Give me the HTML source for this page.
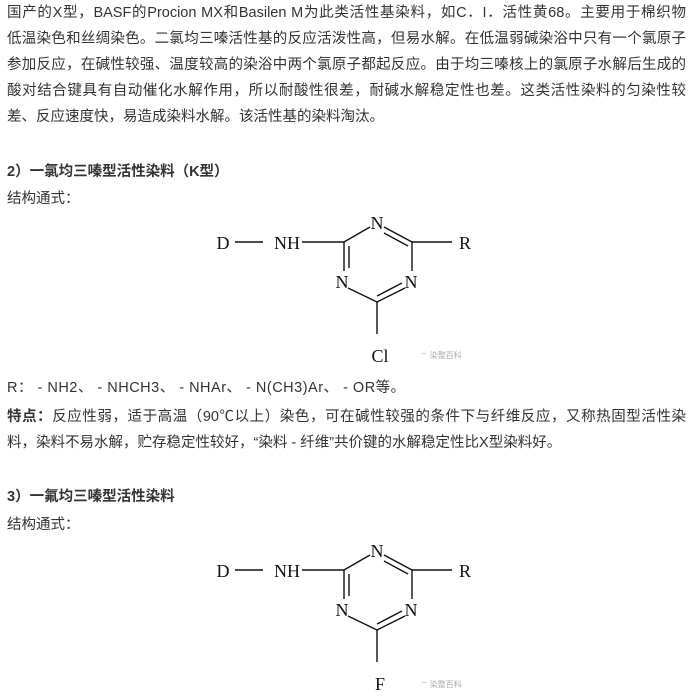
<!DOCTYPE html>
<html><head><meta charset="utf-8">
<style>
html,body{margin:0;padding:0;background:#fff;}
body{width:692px;height:699px;position:relative;overflow:hidden;font-family:"Liberation Sans","Noto Sans CJK SC",sans-serif;font-size:14.5px;color:#333;}
.l{position:absolute;left:7px;width:679px;height:20px;line-height:20px;white-space:nowrap;}
.j{text-align:justify;text-align-last:justify;}
b{font-weight:bold;}
svg{position:absolute;left:0;top:0;}
</style></head><body>
<div class="l j" style="top:3px">国产的X型，BASF的Procion MX和Basilen M为此类活性基染料，如C．I．活性黄68。主要用于棉织物</div>
<div class="l j" style="top:29px">低温染色和丝绸染色。二氯均三嗪活性基的反应活泼性高，但易水解。在低温弱碱染浴中只有一个氯原子</div>
<div class="l j" style="top:55px">参加反应，在碱性较强、温度较高的染浴中两个氯原子都起反应。由于均三嗪核上的氯原子水解后生成的</div>
<div class="l j" style="top:81px">酸对结合键具有自动催化水解作用，所以耐酸性很差，耐碱水解稳定性也差。这类活性染料的匀染性较</div>
<div class="l" style="top:107px">差、反应速度快，易造成染料水解。该活性基的染料淘汰。</div>

<div class="l" style="top:162px"><b>2）一氯均三嗪型活性染料（K型）</b></div>
<div class="l" style="top:189px">结构通式：</div>

<div class="l" style="top:378px;letter-spacing:0.5px">R：&nbsp;- NH2、 - NHCH3、 - NHAr、 - N(CH3)Ar、 - OR等。</div>
<div class="l j" style="top:407px"><b>特点：</b>反应性弱，适于高温（90℃以上）染色，可在碱性较强的条件下与纤维反应，又称热固型活性染</div>
<div class="l" style="top:433px">料，染料不易水解，贮存稳定性较好，“染料 - 纤维”共价键的水解稳定性比X型染料好。</div>

<div class="l" style="top:487px"><b>3）一氟均三嗪型活性染料</b></div>
<div class="l" style="top:515px">结构通式：</div>

<svg width="692" height="699" viewBox="0 0 692 699">
<g id="m1" font-family="Liberation Serif, serif" font-size="18" fill="#111" stroke="#111" stroke-width="1.4">
<g stroke="none" text-anchor="middle">
<text x="223" y="249">D</text>
<text x="287" y="249">NH</text>
<text x="377" y="229">N</text>
<text x="342" y="288">N</text>
<text x="411" y="288">N</text>
<text x="465" y="249">R</text>
</g>
<line x1="235" y1="242" x2="263" y2="242"/>
<line x1="302" y1="242" x2="344" y2="242"/>
<line x1="344" y1="242" x2="370" y2="227"/>
<line x1="384" y1="227" x2="412" y2="242"/>
<line x1="384" y1="233" x2="408" y2="246"/>
<line x1="412" y1="242" x2="452" y2="242"/>
<line x1="344" y1="242" x2="344" y2="271"/>
<line x1="349" y1="246" x2="349" y2="268"/>
<line x1="412" y1="242" x2="412" y2="271"/>
<line x1="348" y1="288" x2="377" y2="302"/>
<line x1="377" y1="302" x2="405" y2="288"/>
<line x1="377" y1="296" x2="402" y2="283"/>
<line x1="377" y1="302" x2="377" y2="334"/>
</g>
<text x="380" y="362" font-family="Liberation Serif, serif" font-size="18" fill="#111" text-anchor="middle">Cl</text>
<text x="420" y="358" font-family="Liberation Sans, Noto Sans CJK SC, sans-serif" font-size="8" fill="#aaa">⌔ 染整百科</text>
<use href="#m1" y="328"/>
<text x="380" y="690" font-family="Liberation Serif, serif" font-size="18" fill="#111" text-anchor="middle">F</text>
<text x="420" y="687" font-family="Liberation Sans, Noto Sans CJK SC, sans-serif" font-size="8" fill="#aaa">⌔ 染整百科</text>
</svg>
</body></html>
